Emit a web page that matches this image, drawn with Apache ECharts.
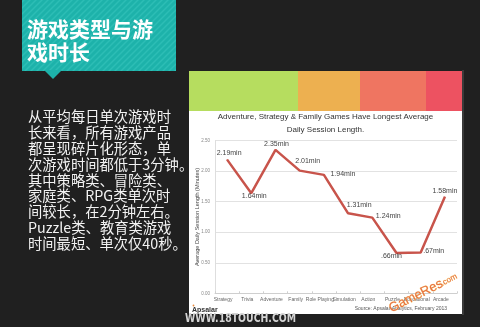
<!DOCTYPE html>
<html>
<head>
<meta charset="utf-8">
<script src="https://cdn.jsdelivr.net/npm/echarts@6/dist/echarts.min.js"></script>
<style>html,body{margin:0;padding:0;background:#202020;}#c{width:480px;height:327px;}</style>
</head>
<body>
<div id="c"></div>
<script>
// ---- data ----
var categories = ['Strategy','Trivia','Adventure','Family','Role Playing','Simulation','Action','Puzzle','Educational','Arcade'];
var sessionMinutes = [2.19, 1.64, 2.35, 2.01, 1.94, 1.31, 1.24, 0.66, 0.67, 1.58];
var yTicks = [0, 0.5, 1.0, 1.5, 2.0, 2.5];
var slideTitle = '游戏类型与游\n戏时长';
var bodyLines = ['从平均每日单次游戏时','长来看，所有游戏产品','都呈现碎片化形态，单','次游戏时间都低于3分钟。','其中策略类、冒险类、','家庭类、RPG类单次时','间较长，在2分钟左右。','Puzzle类、教育类游戏','时间最短、单次仅40秒。'];
var chartTitle = 'Adventure, Strategy & Family Games Have Longest Average\nDaily Session Length.';
var yAxisName = 'Average Daily Session Length (Minutes)';
var sourceText = 'Source: Apsalar Analytics, February 2013';

// label placement (style only)
var labelOffsets = [[2,-7],[3,3],[1,-6],[8,-10],[19,-1],[11,-8],[16,-2],[-5,3],[13,-1],[0,-6]];

// stripe pattern for title box
var pc = document.createElement('canvas');
pc.width = 6; pc.height = 6;
var pctx = pc.getContext('2d');
pctx.fillStyle = '#1db2aa'; pctx.fillRect(0,0,6,6);
pctx.strokeStyle = '#2dbdb5'; pctx.lineWidth = 1.5;
pctx.beginPath(); pctx.moveTo(0,6); pctx.lineTo(6,0); pctx.stroke();
pctx.beginPath(); pctx.moveTo(-3,3); pctx.lineTo(3,-3); pctx.stroke();
pctx.beginPath(); pctx.moveTo(3,9); pctx.lineTo(9,3); pctx.stroke();

var chart = echarts.init(document.getElementById('c'), null, {renderer:'canvas'});
var fmt = function(v){ var s = v.toFixed(2); if (v < 1) s = s.slice(1); return s + 'min'; };

chart.setOption({
  backgroundColor: '#202020',
  animation: false,
  grid: {left: 215, top: 140.7, width: 242, height: 152.6, containLabel: false},
  xAxis: {
    type: 'category', data: categories, boundaryGap: true,
    axisLine: {lineStyle: {color: '#cfcfcf', width: 1}},
    axisTick: {show: true, inside: true, length: 2, lineStyle: {color: '#cfcfcf'}},
    axisLabel: {fontSize: 5, color: '#666', margin: 4, interval: 0, fontFamily: 'Liberation Sans', padding: [0,8,0,0]}
  },
  yAxis: {
    type: 'value', min: yTicks[0], max: yTicks[yTicks.length-1], interval: 0.5,
    name: yAxisName, nameLocation: 'middle', nameGap: 14.5, nameRotate: 90, nameMoveOverlap: false,
    nameTextStyle: {fontSize: 5.5, color: '#444', fontFamily: 'Liberation Sans'},
    axisLine: {show: true, lineStyle: {color: '#dedede'}},
    axisTick: {show: false},
    splitLine: {lineStyle: {color: '#e2e2e2', width: 1}},
    axisLabel: {fontSize: 4.5, color: '#888', margin: 5, fontFamily: 'Liberation Sans', formatter: function(v){ return v.toFixed(2); }}
  },
  series: [{
    type: 'line', z: 5,
    data: sessionMinutes.map(function(v, i){ return {value: v, label: {offset: labelOffsets[i]}}; }),
    symbol: 'circle', symbolSize: 1, showSymbol: true,
    itemStyle: {color: '#c8544b'},
    lineStyle: {color: '#c8544b', width: 2.5},
    label: {show: true, position: 'inside', fontSize: 7, color: '#444', fontFamily: 'Liberation Sans', formatter: function(p){ return fmt(p.value); }}
  }],
  graphic: [
    // title box
    {type: 'rect', z: 1, shape: {x: 22, y: 0, width: 154, height: 71}, style: {fill: {image: pc, repeat: 'repeat'}}},
    {type: 'polygon', z: 1, shape: {points: [[44,70],[62,70],[53,79]]}, style: {fill: '#1db2aa'}},
    {type: 'text', z: 2, style: {text: slideTitle, x: 27, y: 18, fill: '#ffffff', font: 'bold 21px "Noto Sans CJK SC"', lineHeight: 23, textAlign: 'left', textVerticalAlign: 'top'}},
    // body text
    {type: 'text', z: 2, style: {text: bodyLines.join('\n'), x: 28, y: 109, fill: '#f2f2f2', font: '14.3px "Noto Sans CJK SC"', lineHeight: 15.8, textAlign: 'left', textVerticalAlign: 'top'}},
    // chart image frame
    {type: 'rect', z: 0, shape: {x: 462, y: 70, width: 2, height: 245}, style: {fill: '#3a3a3a'}},
    {type: 'rect', z: 0, shape: {x: 189, y: 111, width: 273, height: 203}, style: {fill: '#ffffff'}},
    {type: 'rect', z: 0, shape: {x: 189, y: 71, width: 109, height: 40}, style: {fill: '#b6dd5f'}},
    {type: 'rect', z: 0, shape: {x: 298, y: 71, width: 62, height: 40}, style: {fill: '#edb050'}},
    {type: 'rect', z: 0, shape: {x: 360, y: 71, width: 66, height: 40}, style: {fill: '#ef7561'}},
    {type: 'rect', z: 0, shape: {x: 426, y: 71, width: 36, height: 40}, style: {fill: '#ed5261'}},
    {type: 'text', z: 3, style: {text: chartTitle, x: 325.5, y: 111, fill: '#333', font: '8px "Liberation Sans"', lineHeight: 12.5, textAlign: 'center', textVerticalAlign: 'top'}},
    {type: 'text', z: 3, style: {text: sourceText, x: 447, y: 308.5, fill: '#555', font: '5px "Liberation Sans"', textAlign: 'right', textVerticalAlign: 'middle'}},
    {type: 'text', z: 3, style: {text: 'Apsalar', x: 192, y: 310, fill: '#333', font: 'bold 7px "Liberation Sans"', textAlign: 'left', textVerticalAlign: 'middle'}},
    {type: 'circle', z: 3, shape: {cx: 193.5, cy: 305.5, r: 0.9}, style: {fill: '#e8893a'}},
    // watermarks
    {type: 'text', z: 100, x: 185, y: 319, scaleX: 0.8, style: {text: 'WWW.18TOUCH.COM', x: 0, y: 0, fill: '#d4d4d4', font: 'bold 13px "DejaVu Sans Condensed", "DejaVu Sans", sans-serif', textAlign: 'left', textVerticalAlign: 'middle'}},
    {type: 'text', z: 100, x: 416, y: 296, rotation: 0.47, style: {text: 'GameRes', x: 0, y: 0, fill: '#e8703e', stroke: '#f6d27a', lineWidth: 0.5, font: '13px "Liberation Sans"', textAlign: 'center', textVerticalAlign: 'middle'}},
    {type: 'text', z: 100, x: 449, y: 280, rotation: 0.47, style: {text: '.com', x: 0, y: 0, fill: '#e8703e', stroke: '#f6d27a', lineWidth: 0.4, font: '8px "Liberation Sans"', textAlign: 'center', textVerticalAlign: 'middle'}}
  ]
});
</script>
</body>
</html>
